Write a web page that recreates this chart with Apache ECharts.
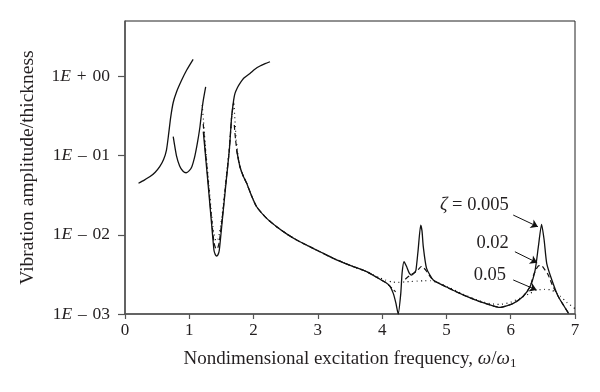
<!DOCTYPE html>
<html>
<head>
<meta charset="utf-8">
<script src="https://cdn.jsdelivr.net/npm/echarts@6/dist/echarts.min.js"></script>
<style>
html,body{margin:0;padding:0;background:#fff;}
#chart{width:600px;height:392px;}
</style>
</head>
<body>
<div id="chart"></div>
<script>
// ---- data (x = ω/ω1, y = amplitude/thickness); null separates branches ----
const xTicks = [0, 1, 2, 3, 4, 5, 6, 7];
const yTickValues = [0.001, 0.01, 0.1, 1];
const yTickLabels = ['1E – 03', '1E – 02', '1E – 01', '1E + 00'];

// zeta = 0.005 (solid)
const solidX = [
  0.21,0.30,0.39,0.47,0.54,0.60,0.645,0.68,0.71,0.75,0.80,0.88,0.96,1.06, null,
  0.75,0.80,0.85,0.90,0.95,1.00,1.04,1.08,1.115,1.145,1.166,1.19,1.218,1.255, null,
  1.218,1.244,1.291,1.337,1.384,1.405,1.426,1.447,1.467,1.519,1.571,1.623,1.659,1.69,1.711,1.75,1.788,1.85,1.944,2.02,2.10,2.18,2.255, null,
  1.737,1.788,1.84,1.893,1.97,2.048,2.204,2.359,2.52,2.67,2.85,3.033,3.24,3.5,3.759,3.966,4.05,4.12,4.173,4.215,4.25,4.29,4.31,4.34,4.38,4.42,4.459,4.50,4.526,4.56,4.60,4.62,4.64,4.69,4.795,5.0,5.26,5.5,5.68,5.83,6.04,6.19,6.30,6.38,6.43,6.48,6.52,6.56,6.64,6.74,6.90
];
const solidY = [
  0.0447,0.049,0.0543,0.0617,0.0724,0.0891,0.1175,0.1905,0.302,0.468,0.631,0.891,1.202,1.64, null,
  0.173,0.1,0.0741,0.0638,0.0607,0.0646,0.0724,0.0933,0.129,0.178,0.231,0.339,0.501,0.739, null,
  0.2,0.1175,0.0447,0.0169,0.00638,0.00562,0.0054,0.00562,0.00638,0.0169,0.0447,0.1175,0.309,0.501,0.61,0.724,0.817,0.955,1.09,1.23,1.35,1.445,1.53, null,
  0.1175,0.0723,0.055,0.0447,0.0309,0.0226,0.0161,0.01265,0.0102,0.00859,0.00724,0.00611,0.00505,0.00412,0.00342,0.00275,0.00251,0.00225,0.00182,0.00136,0.001,0.00182,0.00327,0.00457,0.00398,0.00331,0.0031,0.00331,0.00359,0.00646,0.01327,0.0112,0.00708,0.0038,0.00269,0.00219,0.00174,0.00145,0.0013,0.00121,0.00136,0.00166,0.00221,0.00359,0.00708,0.01355,0.00859,0.00437,0.00269,0.00166,0.00102
];

// zeta = 0.02 (dashed)
const dashX = [
  1.217,1.244,1.291,1.337,1.384,1.41,1.426,1.445,1.467,1.519,1.571,1.623,1.659,1.69, null,
  1.70,1.72,1.75,1.788,1.84,1.893,1.97,2.048,2.204,2.359,2.52,2.67,2.85,3.033,3.24,3.5,3.759,3.966,4.05,4.12,4.17,4.21, null,
  4.36,4.42,4.50,4.56,4.61,4.65,4.70,4.75,4.80,5.0,5.26,5.5,5.68,5.83,6.04,6.19,6.30,6.36,6.40,6.44,6.48,6.53,6.58,6.64,6.74,6.90
];
const dashY = [
  0.251,0.132,0.0501,0.019,0.00794,0.00676,0.0066,0.00692,0.00813,0.0182,0.0468,0.1175,0.309,0.468, null,
  0.243,0.158,0.102,0.0723,0.055,0.0447,0.0309,0.0226,0.0161,0.01265,0.0102,0.00859,0.00724,0.00611,0.00505,0.00412,0.00342,0.00275,0.00251,0.00225,0.00204,0.00191, null,
  0.00275,0.00302,0.00331,0.00363,0.00398,0.0038,0.00339,0.00295,0.00266,0.00219,0.00174,0.00145,0.0013,0.00121,0.00136,0.00166,0.00221,0.00316,0.00372,0.00407,0.00407,0.00363,0.00316,0.0024,0.00166,0.00102
];

// zeta = 0.05 (dotted)
const dotX = [
  1.20,1.22,1.244,1.291,1.337,1.38,1.41,1.43,1.45,1.47,1.519,1.571,1.623,1.659,1.69,1.71,1.73,1.76,1.788,1.84,1.893,1.97,2.048,2.204,2.359,2.52,2.67,2.85,3.033,3.24,3.5,3.759,3.85,3.95,4.05,4.15,4.25,4.35,4.45,4.55,4.65,4.75,4.85,5.0,5.26,5.5,5.68,5.83,6.0,6.14,6.30,6.40,6.53,6.64,6.77,6.87,7.0
];
const dotY = [
  0.437,0.282,0.151,0.0562,0.0219,0.0105,0.00851,0.00832,0.00891,0.0105,0.02,0.0501,0.126,0.309,0.468,0.282,0.158,0.1,0.0723,0.055,0.0447,0.0309,0.0226,0.0161,0.01265,0.0102,0.00859,0.00724,0.00611,0.00505,0.00412,0.00342,0.00316,0.00288,0.00269,0.00254,0.00251,0.00254,0.00257,0.0026,0.00263,0.00263,0.00251,0.00224,0.00178,0.00148,0.00135,0.00132,0.00141,0.00158,0.00182,0.002,0.00204,0.002,0.00168,0.00141,0.00117
];

// annotations (data coordinates)
const annotTexts = ['{z|ζ} = 0.005', '0.02', '0.05'];
const annotAt = [[5.435, 0.02376], [5.718, 0.0078], [5.676, 0.0031]];
const arrowFrom = [[6.039, 0.01775], [6.065, 0.00611], [6.039, 0.00269]];
const arrowTo = [[6.423, 0.01265], [6.412, 0.00444], [6.403, 0.00201]];

function pairs(xs, ys) {
  return xs.map((x, i) => (x === null || ys[i] === null) ? '-' : [x, ys[i]]);
}

const FONT = 'Liberation Serif';
const TXT = '#231f20';

const chart = echarts.init(document.getElementById('chart'), null, {renderer: 'canvas'});
const option = {
  backgroundColor: '#fff',
  animation: false,
  grid: {left: 125, right: 25, top: 21, bottom: 78, show: true, borderColor: '#222', borderWidth: 1},
  xAxis: {
    type: 'value', min: 0, max: 7, interval: 1,
    name: 'Nondimensional excitation frequency, {i|ω}/{i|ω}{s|1}',
    nameLocation: 'middle', nameGap: 34,
    nameTextStyle: {
      fontFamily: FONT, fontSize: 19, color: TXT,
      rich: {
        i: {fontFamily: FONT, fontSize: 19, fontStyle: 'italic', color: TXT},
        s: {fontFamily: FONT, fontSize: 13, color: TXT, padding: [9, 0, 0, 0]}
      }
    },
    axisLine: {lineStyle: {color: '#555', width: 1.5}},
    axisTick: {show: true, inside: false, length: 5, lineStyle: {color: '#555', width: 1.2}},
    axisLabel: {fontFamily: FONT, fontSize: 17, color: TXT, margin: 8,
      formatter: v => String(xTicks[xTicks.indexOf(v)])},
    splitLine: {show: false}
  },
  yAxis: {
    type: 'log', logBase: 10, min: 0.001, max: 5,
    name: 'Vibration amplitude/thickness',
    nameLocation: 'middle', nameGap: 87, nameRotate: 90,
    nameTextStyle: {fontFamily: FONT, fontSize: 19.5, color: TXT},
    axisLine: {lineStyle: {color: '#555', width: 1.5}},
    axisTick: {show: true, length: 7, lineStyle: {color: '#555', width: 1.2}, customValues: yTickValues},
    axisLabel: {
      fontFamily: FONT, fontSize: 17.5, color: TXT, margin: 15,
      customValues: yTickValues,
      formatter: v => {
        let best = 0, bd = Infinity;
        yTickValues.forEach((t, i) => { const d = Math.abs(Math.log10(v) - Math.log10(t)); if (d < bd) { bd = d; best = i; } });
        if (bd > 0.05) return '';
        return yTickLabels[best].replace('E', '{e|E}').replace(/ /g, '\u2004');
      },
      rich: {e: {fontFamily: FONT, fontSize: 17.5, fontStyle: 'italic', color: TXT}}
    },
    splitLine: {show: false}
  },
  series: [
    {
      name: 'ζ = 0.005', type: 'line', data: pairs(solidX, solidY), showSymbol: false, symbol: 'none',
      connectNulls: false, smooth: 0.2,
      lineStyle: {color: '#111', width: 1.3, type: 'solid'}, z: 3,
      markLine: {
        silent: true, symbol: ['none', 'arrow'], symbolSize: 7, animation: false,
        itemStyle: {color: '#111'},
        lineStyle: {color: '#111', width: 1, type: 'solid'}, label: {show: false},
        data: arrowFrom.map((p, i) => [{coord: p}, {coord: arrowTo[i]}])
      },
      markPoint: {
        silent: true, symbol: 'circle', symbolSize: 1, itemStyle: {color: 'rgba(0,0,0,0)'},
        label: {show: true, position: 'inside', fontFamily: FONT, fontSize: 18.5, color: TXT,
          formatter: p => p.data.txt,
          rich: {z: {fontFamily: FONT, fontSize: 18.5, fontStyle: 'italic', color: TXT}}},
        data: annotAt.map((p, i) => ({coord: p, txt: annotTexts[i]}))
      }
    },
    {
      name: 'ζ = 0.02', type: 'line', data: pairs(dashX, dashY), showSymbol: false, symbol: 'none',
      connectNulls: false, smooth: 0.2,
      lineStyle: {color: '#111', width: 1.2, type: [5, 3]}, z: 2
    },
    {
      name: 'ζ = 0.05', type: 'line', data: pairs(dotX, dotY), showSymbol: false, symbol: 'none',
      connectNulls: false, smooth: 0.2,
      lineStyle: {color: '#111', width: 1.2, type: [1, 3.5]}, z: 2
    }
  ]
};
chart.setOption(option);
</script>
</body>
</html>
